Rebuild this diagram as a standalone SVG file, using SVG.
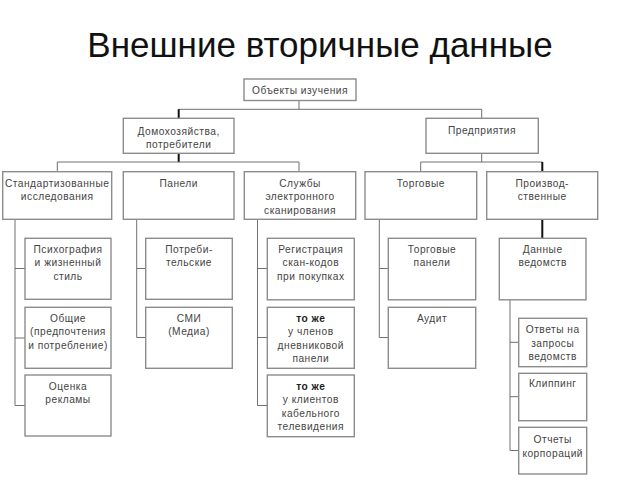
<svg xmlns="http://www.w3.org/2000/svg" width="640" height="480" viewBox="0 0 640 480">
<style>
.bx{fill:#fff;stroke:#8c8c8c;stroke-width:1.4}
.t{font-family:"Liberation Sans",Arial,sans-serif;font-size:10.2px;fill:#444;text-anchor:middle;letter-spacing:0.5px}
.b{font-weight:bold;fill:#222}
.ln{fill:none;stroke:#707070;stroke-width:1}
.lk{fill:none;stroke:#111;stroke-width:2}
.title{font-family:"Liberation Sans",Arial,sans-serif;font-size:35px;fill:#111;text-anchor:middle}
</style>
<rect width="640" height="480" fill="#fff"/>
<text class="title" x="320" y="57">Внешние вторичные данные</text>

<g id="connectors">
<path class="ln" d="M299,100.5V109.3M178.7,109.3H481.7V118.3"/>
<path class="lk" d="M178.7,109.3V118.3M178.7,153.3V162"/>
<path class="ln" d="M57.3,171.7V162H299V171.7"/>
<path class="ln" d="M481.7,153.3V162M420.7,171.7V162H542.3"/>
<path class="lk" d="M542.3,162V171.7M542.3,219.3V238"/>
<path class="ln" d="M15,219.3V405.5H25M15,268.5H25M15,338H25"/>
<path class="ln" d="M136.7,219.3V337.5H145.7M136.7,268.5H145.7"/>
<path class="ln" d="M257.5,219.3V405.5H267.3M257.5,268.5H267.3M257.5,337.5H267.3"/>
<path class="ln" d="M379.3,219.3V337.5H388.3M379.3,268.5H388.3"/>
<path class="ln" d="M510,300V450.5H518.7M510,342.3H518.7M510,396.7H518.7"/>
</g>

<g id="n-objects"><rect class="bx" x="244" y="79" width="112" height="21.5"/><text class="t" x="300" y="94">Объекты изучения</text></g>

<g id="n-households"><rect class="bx" x="123.3" y="118.3" width="110.7" height="35"/><text class="t" x="178.7" y="135">Домохозяйства,</text><text class="t" x="178.7" y="148">потребители</text></g>
<g id="n-enterprises"><rect class="bx" x="426" y="118.3" width="112.3" height="35"/><text class="t" x="482" y="134">Предприятия</text></g>

<g id="n-standard"><rect class="bx" x="2.7" y="171.7" width="109" height="47.6"/><text class="t" x="57.2" y="186.5">Стандартизованные</text><text class="t" x="57.2" y="200">исследования</text></g>
<g id="n-panels"><rect class="bx" x="123.3" y="171.7" width="110.7" height="47.6"/><text class="t" x="178.7" y="186.5">Панели</text></g>
<g id="n-scan"><rect class="bx" x="244.3" y="171.7" width="111.4" height="47.6"/><text class="t" x="300" y="186.5">Службы</text><text class="t" x="300" y="200">электронного</text><text class="t" x="300" y="213.5">сканирования</text></g>
<g id="n-trade"><rect class="bx" x="365" y="171.7" width="111.7" height="47.6"/><text class="t" x="420.8" y="186.5">Торговые</text></g>
<g id="n-production"><rect class="bx" x="486.7" y="171.7" width="111" height="47.6"/><text class="t" x="542.2" y="186.5">Производ-</text><text class="t" x="542.2" y="200">ственные</text></g>

<g id="n-psycho"><rect class="bx" x="25" y="238.3" width="86" height="61"/><text class="t" x="68" y="252.5">Психография</text><text class="t" x="68" y="266">и жизненный</text><text class="t" x="68" y="279.5">стиль</text></g>
<g id="n-general"><rect class="bx" x="25" y="307.3" width="86" height="61"/><text class="t" x="68" y="321.5">Общие</text><text class="t" x="68" y="335">(предпочтения</text><text class="t" x="68" y="348.5">и потребление)</text></g>
<g id="n-ads"><rect class="bx" x="25" y="375" width="86" height="61"/><text class="t" x="68" y="389.5">Оценка</text><text class="t" x="68" y="403">рекламы</text></g>

<g id="n-consumer"><rect class="bx" x="145.7" y="238.3" width="86.6" height="61"/><text class="t" x="189" y="252.5">Потреби-</text><text class="t" x="189" y="266">тельские</text></g>
<g id="n-media"><rect class="bx" x="145.7" y="307.3" width="86.6" height="61"/><text class="t" x="189" y="321.5">СМИ</text><text class="t" x="189" y="335">(Медиа)</text></g>

<g id="n-registration"><rect class="bx" x="267.3" y="238.3" width="87" height="61.5"/><text class="t" x="310.8" y="252.5">Регистрация</text><text class="t" x="310.8" y="266">скан-кодов</text><text class="t" x="310.8" y="279.5">при покупках</text></g>
<g id="n-diary"><rect class="bx" x="267.3" y="307.3" width="87" height="61"/><text class="t b" x="310.8" y="321.5">то же</text><text class="t" x="310.8" y="335">у членов</text><text class="t" x="310.8" y="348.5">дневниковой</text><text class="t" x="310.8" y="362">панели</text></g>
<g id="n-cable"><rect class="bx" x="267.3" y="375" width="87" height="61.7"/><text class="t b" x="310.8" y="389.5">то же</text><text class="t" x="310.8" y="403">у клиентов</text><text class="t" x="310.8" y="416.5">кабельного</text><text class="t" x="310.8" y="430">телевидения</text></g>

<g id="n-tradepanels"><rect class="bx" x="388.3" y="238.3" width="87.4" height="61.5"/><text class="t" x="432" y="252.5">Торговые</text><text class="t" x="432" y="266">панели</text></g>
<g id="n-audit"><rect class="bx" x="388.3" y="307.3" width="87.4" height="61"/><text class="t" x="432" y="321.5">Аудит</text></g>

<g id="n-agency"><rect class="bx" x="499.3" y="238.3" width="86.7" height="61.5"/><text class="t" x="542.7" y="252.5">Данные</text><text class="t" x="542.7" y="266">ведомств</text></g>
<g id="n-answers"><rect class="bx" x="518.7" y="318.3" width="68" height="48.4"/><text class="t" x="552.7" y="333">Ответы на</text><text class="t" x="552.7" y="346.5">запросы</text><text class="t" x="552.7" y="360">ведомств</text></g>
<g id="n-clipping"><rect class="bx" x="518.7" y="373.3" width="68" height="47.4"/><text class="t" x="552.7" y="387">Клиппинг</text></g>
<g id="n-reports"><rect class="bx" x="518.7" y="427.3" width="68" height="46.7"/><text class="t" x="552.7" y="443">Отчеты</text><text class="t" x="552.7" y="456.5">корпораций</text></g>
</svg>
